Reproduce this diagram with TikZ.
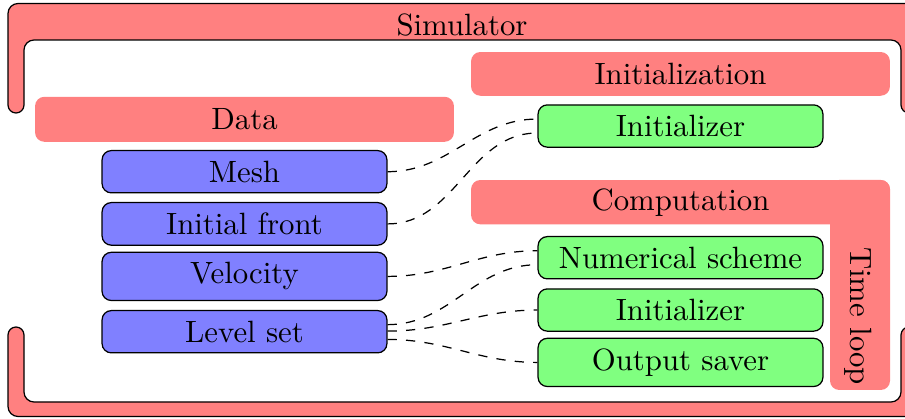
\documentclass[tikz,border=0pt]{standalone}
\begin{document}
\begin{tikzpicture}[x=0.3247pt,y=-0.3247pt,
  frame/.style={fill=red!50,draw=black,line width=0.4pt},
  hdr/.style={fill=red!50,rounded corners=3pt,minimum width=136pt,inner sep=0pt},
  blu/.style={draw=black,fill=blue!50,rounded corners=3pt,minimum width=92.5pt,anchor=north},
  grn/.style={draw=black,fill=green!50,rounded corners=3pt,minimum width=92.5pt,anchor=north},
  conn/.style={draw=black,dashed,line width=0.4pt}]
\useasboundingbox (0,0) rectangle (905,419);
% simulator frame
\path[frame] (8,105) -- (8,13.5) arc[start angle=180,end angle=270,radius=10]
  -- (907,3.5) arc[start angle=270,end angle=360,radius=10]
  -- (917,105) arc[start angle=0,end angle=180,radius=8]
  -- (901,50) arc[start angle=0,end angle=-90,radius=10]
  -- (34,40) arc[start angle=270,end angle=180,radius=10]
  -- (24,105) arc[start angle=0,end angle=180,radius=8] -- cycle;
\path[frame] (8,335) arc[start angle=180,end angle=360,radius=8]
  -- (24,392) arc[start angle=180,end angle=90,radius=10]
  -- (891,402) arc[start angle=90,end angle=0,radius=10]
  -- (901,335) arc[start angle=180,end angle=360,radius=8]
  -- (917,406.5) arc[start angle=0,end angle=90,radius=10]
  -- (18,416.5) arc[start angle=90,end angle=180,radius=10] -- cycle;
\node (sim) at (462,24.5) {Simulator};
% headers
\node[hdr,minimum height=14.6pt] (data) at (244.5,119.3) {Data};
\node[hdr,minimum height=14.2pt] (init) at (680.5,73.9) {Initialization};
\fill[red!50,rounded corners=3pt] (830,180) rectangle (890,390);
\node[hdr,minimum height=14.4pt] (comp) at (680.5,202.2) {Computation};
\node[rotate=-90] (tloop) at (858,316) {Time loop};
% data nodes
\node[blu] (mesh) at (244.5,150) {Mesh};
\node[blu] (front) at (244.5,202) {Initial front};
\node[blu] (vel) at (244.5,251.7) {Velocity};
\node[blu] (ls) at (244.5,310) {Level set};
% process nodes
\node[grn] (ini) at (680.5,104.3) {Initializer};
\node[grn] (num) at (680.5,236) {Numerical scheme};
\node[grn] (ini2) at (680.5,288.3) {Initializer};
\node[grn] (outs) at (680.5,337.7) {Output saver};
% connectors
\draw[conn] (mesh.east) to[out=0,in=180] ([yshift=2.27pt]ini.west);
\draw[conn] (front.east) to[out=0,in=180] ([yshift=-2.27pt]ini.west);
\draw[conn] (vel.east) to[out=0,in=180] ([yshift=2.27pt]num.west);
\draw[conn] ([yshift=2.3pt]ls.east) to[out=0,in=180] ([yshift=-2.27pt]num.west);
\draw[conn] ([yshift=0.2pt]ls.east) to[out=0,in=180] (ini2.west);
\draw[conn] ([yshift=-2.5pt]ls.east) to[out=0,in=180] (outs.west);
\end{tikzpicture}
\end{document}
